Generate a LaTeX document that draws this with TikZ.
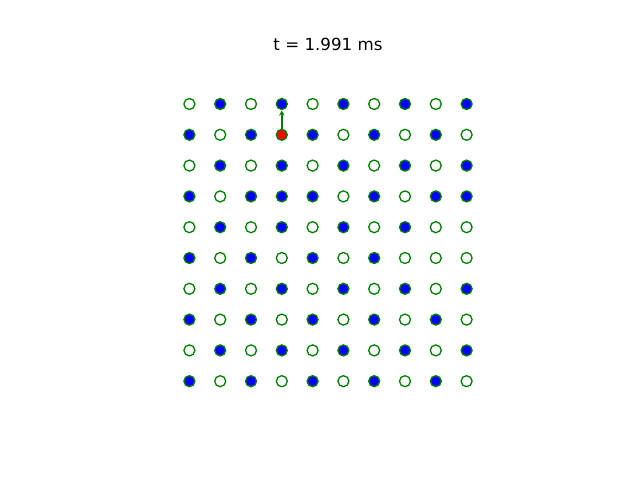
\documentclass[tikz,border=0pt]{standalone}
\usepackage{fontspec}
\setmainfont{DejaVu Sans}
\usetikzlibrary{arrows.meta}
\definecolor{mgreen}{HTML}{008000}
\definecolor{mblue}{HTML}{0000FF}
\definecolor{mred}{HTML}{FF0000}
\tikzset{
  site/.style={circle, draw=mgreen, line width=1.3pt, minimum size=11pt, inner sep=0pt},
  open/.style={site, fill=white},
  full/.style={site, fill=mblue},
  hot/.style={site, fill=mred},
  spin/.style={draw=mgreen, line width=2pt, -{Stealth[length=5pt,width=5.5pt]}}
}
\begin{document}
\begin{tikzpicture}[x=1pt,y=1pt]
\useasboundingbox (0,0) rectangle (640,480);
\node (title) at (328,436) {\fontsize{16.67}{20}\selectfont t = 1.991 ms};
\coordinate (tip) at (281.8,369.5);
\foreach \r/\row in {1/{0,1,0,1,0,1,0,1,0,1},
                     2/{1,0,1,2,1,0,1,0,1,0},
                     3/{0,1,0,1,0,1,0,1,0,1},
                     4/{1,0,1,1,1,0,1,0,1,1},
                     5/{0,1,0,1,0,1,0,1,0,0},
                     6/{1,0,1,0,1,0,1,0,0,0},
                     7/{0,1,0,1,0,1,0,1,0,1},
                     8/{1,0,1,0,1,0,1,0,1,0},
                     9/{0,1,0,1,0,1,0,1,0,1},
                     10/{1,0,1,0,1,0,1,0,1,0}}{
  \foreach \v [count=\c] in \row {
    \pgfmathsetmacro{\xx}{189.4+30.8*(\c-1)}
    \pgfmathsetmacro{\yy}{480-104-30.8*(\r-1)}
    \ifcase\v
      \node[open] (s-\r-\c) at (\xx,\yy) {};
    \or
      \node[full] (s-\r-\c) at (\xx,\yy) {};
    \or
      \node[hot] (s-\r-\c) at (\xx,\yy) {};
    \fi
  }
}
\draw[spin] (s-2-4.north) -- (tip);
\end{tikzpicture}
\end{document}
